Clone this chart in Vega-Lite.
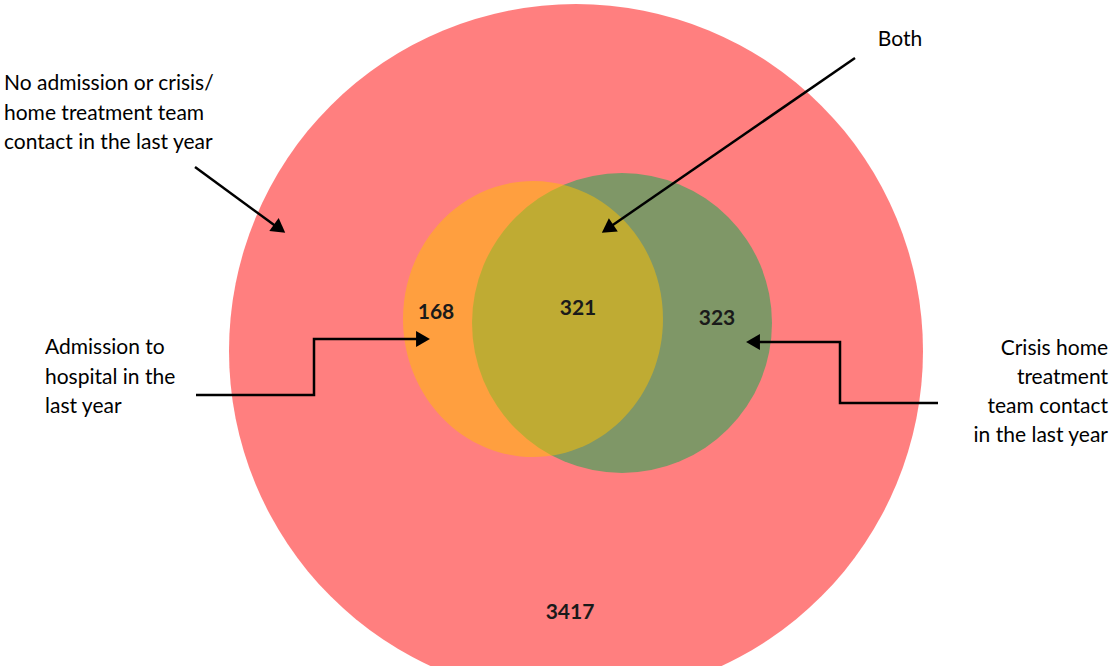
{
  "$schema": "https://vega.github.io/schema/vega-lite/v6.json",
  "width": 1113,
  "height": 666,
  "autosize": {"type": "none"},
  "padding": 0,
  "background": "white",
  "config": {"view": {"stroke": null}, "text": {"font": "Lato"}},
  "datasets": {
    "circles": [
      {"set": "No admission or crisis/home treatment team contact", "x": 576, "y": 351},
      {"set": "Crisis home treatment team contact", "x": 622, "y": 323},
      {"set": "Admission to hospital", "x": 533, "y": 319}
    ],
    "counts": [
      {"region": "Admission only", "count": 168, "x": 436, "y": 313},
      {"region": "Both", "count": 321, "x": 578, "y": 309},
      {"region": "Crisis only", "count": 323, "x": 717, "y": 319},
      {"region": "Neither", "count": 3417, "x": 570, "y": 613}
    ],
    "labels": [
      {"label": "No admission or crisis/\nhome treatment team\ncontact in the last year", "x": 4, "y": 84, "side": "left"},
      {"label": "Admission to\nhospital in the\nlast year", "x": 45, "y": 348, "side": "left"},
      {"label": "Crisis home\ntreatment\nteam contact\nin the last year", "x": 1108, "y": 349, "side": "right"},
      {"label": "Both", "x": 900, "y": 40, "side": "center"}
    ],
    "arrows": [
      {"arrow": "none", "i": 0, "x": 195, "y": 167},
      {"arrow": "none", "i": 1, "x": 281, "y": 230},
      {"arrow": "admission", "i": 0, "x": 196, "y": 395},
      {"arrow": "admission", "i": 1, "x": 314, "y": 395},
      {"arrow": "admission", "i": 2, "x": 314, "y": 339},
      {"arrow": "admission", "i": 3, "x": 424, "y": 339},
      {"arrow": "crisis", "i": 0, "x": 938, "y": 403},
      {"arrow": "crisis", "i": 1, "x": 840, "y": 403},
      {"arrow": "crisis", "i": 2, "x": 840, "y": 342},
      {"arrow": "crisis", "i": 3, "x": 752, "y": 342},
      {"arrow": "both", "i": 0, "x": 855, "y": 58},
      {"arrow": "both", "i": 1, "x": 607, "y": 229}
    ],
    "heads": [
      {"arrow": "none", "x": 279.6, "y": 228.6},
      {"arrow": "admission", "x": 423, "y": 339},
      {"arrow": "crisis", "x": 753, "y": 342},
      {"arrow": "both", "x": 607.6, "y": 228.8}
    ]
  },
  "encoding": {
    "x": {"field": "x", "type": "quantitative", "scale": {"domain": [0, 1113], "nice": false, "zero": false}, "axis": null},
    "y": {"field": "y", "type": "quantitative", "scale": {"domain": [0, 666], "nice": false, "zero": false, "reverse": true}, "axis": null}
  },
  "layer": [
    {
      "data": {"name": "circles"},
      "transform": [{"filter": "datum.set === 'No admission or crisis/home treatment team contact'"}],
      "mark": {"type": "point", "shape": "circle", "filled": true, "size": 481636, "color": "#FF0000", "opacity": 0.5, "strokeWidth": 0}
    },
    {
      "data": {"name": "circles"},
      "transform": [{"filter": "datum.set === 'Crisis home treatment team contact'"}],
      "mark": {"type": "point", "shape": "circle", "filled": true, "size": 90000, "color": "#00B050", "opacity": 0.5, "strokeWidth": 0}
    },
    {
      "data": {"name": "circles"},
      "transform": [{"filter": "datum.set === 'Admission to hospital'"}],
      "mark": {"type": "point", "shape": "M-0.942,0A0.942,1 0 1,0 0.942,0A0.942,1 0 1,0 -0.942,0Z", "filled": true, "size": 76176, "color": "#FFC000", "opacity": 0.5, "strokeWidth": 0}
    },
    {
      "data": {"name": "counts"},
      "mark": {"type": "text", "font": "Lato", "fontSize": 21, "fontWeight": "bold", "color": "#1a1a1a", "align": "center", "baseline": "middle"},
      "encoding": {"text": {"field": "count", "type": "quantitative"}}
    },
    {
      "data": {"name": "labels"},
      "transform": [{"filter": "datum.side === 'left'"}],
      "mark": {"type": "text", "font": "Lato", "fontSize": 21, "color": "#000000", "align": "left", "baseline": "top", "lineBreak": "\n", "lineHeight": 29.5, "dy": -11},
      "encoding": {"text": {"field": "label", "type": "nominal"}}
    },
    {
      "data": {"name": "labels"},
      "transform": [{"filter": "datum.side === 'right'"}],
      "mark": {"type": "text", "font": "Lato", "fontSize": 21, "color": "#000000", "align": "right", "baseline": "top", "lineBreak": "\n", "lineHeight": 29, "dy": -11},
      "encoding": {"text": {"field": "label", "type": "nominal"}}
    },
    {
      "data": {"name": "labels"},
      "transform": [{"filter": "datum.side === 'center'"}],
      "mark": {"type": "text", "font": "Lato", "fontSize": 21, "color": "#000000", "align": "center", "baseline": "middle"},
      "encoding": {"text": {"field": "label", "type": "nominal"}}
    },
    {
      "data": {"name": "arrows"},
      "mark": {"type": "line", "color": "#000000", "strokeWidth": 2.5, "interpolate": "linear"},
      "encoding": {"detail": {"field": "arrow", "type": "nominal"}, "order": {"field": "i", "type": "quantitative"}}
    },
    {
      "data": {"name": "heads"},
      "transform": [{"filter": "datum.arrow === 'none'"}],
      "mark": {"type": "point", "shape": "triangle-right", "filled": true, "size": 256, "color": "#000000", "opacity": 1, "strokeWidth": 0, "angle": 36}
    },
    {
      "data": {"name": "heads"},
      "transform": [{"filter": "datum.arrow === 'admission'"}],
      "mark": {"type": "point", "shape": "triangle-right", "filled": true, "size": 256, "color": "#000000", "opacity": 1, "strokeWidth": 0}
    },
    {
      "data": {"name": "heads"},
      "transform": [{"filter": "datum.arrow === 'crisis'"}],
      "mark": {"type": "point", "shape": "triangle-left", "filled": true, "size": 256, "color": "#000000", "opacity": 1, "strokeWidth": 0}
    },
    {
      "data": {"name": "heads"},
      "transform": [{"filter": "datum.arrow === 'both'"}],
      "mark": {"type": "point", "shape": "triangle-right", "filled": true, "size": 256, "color": "#000000", "opacity": 1, "strokeWidth": 0, "angle": 146}
    }
  ]
}
